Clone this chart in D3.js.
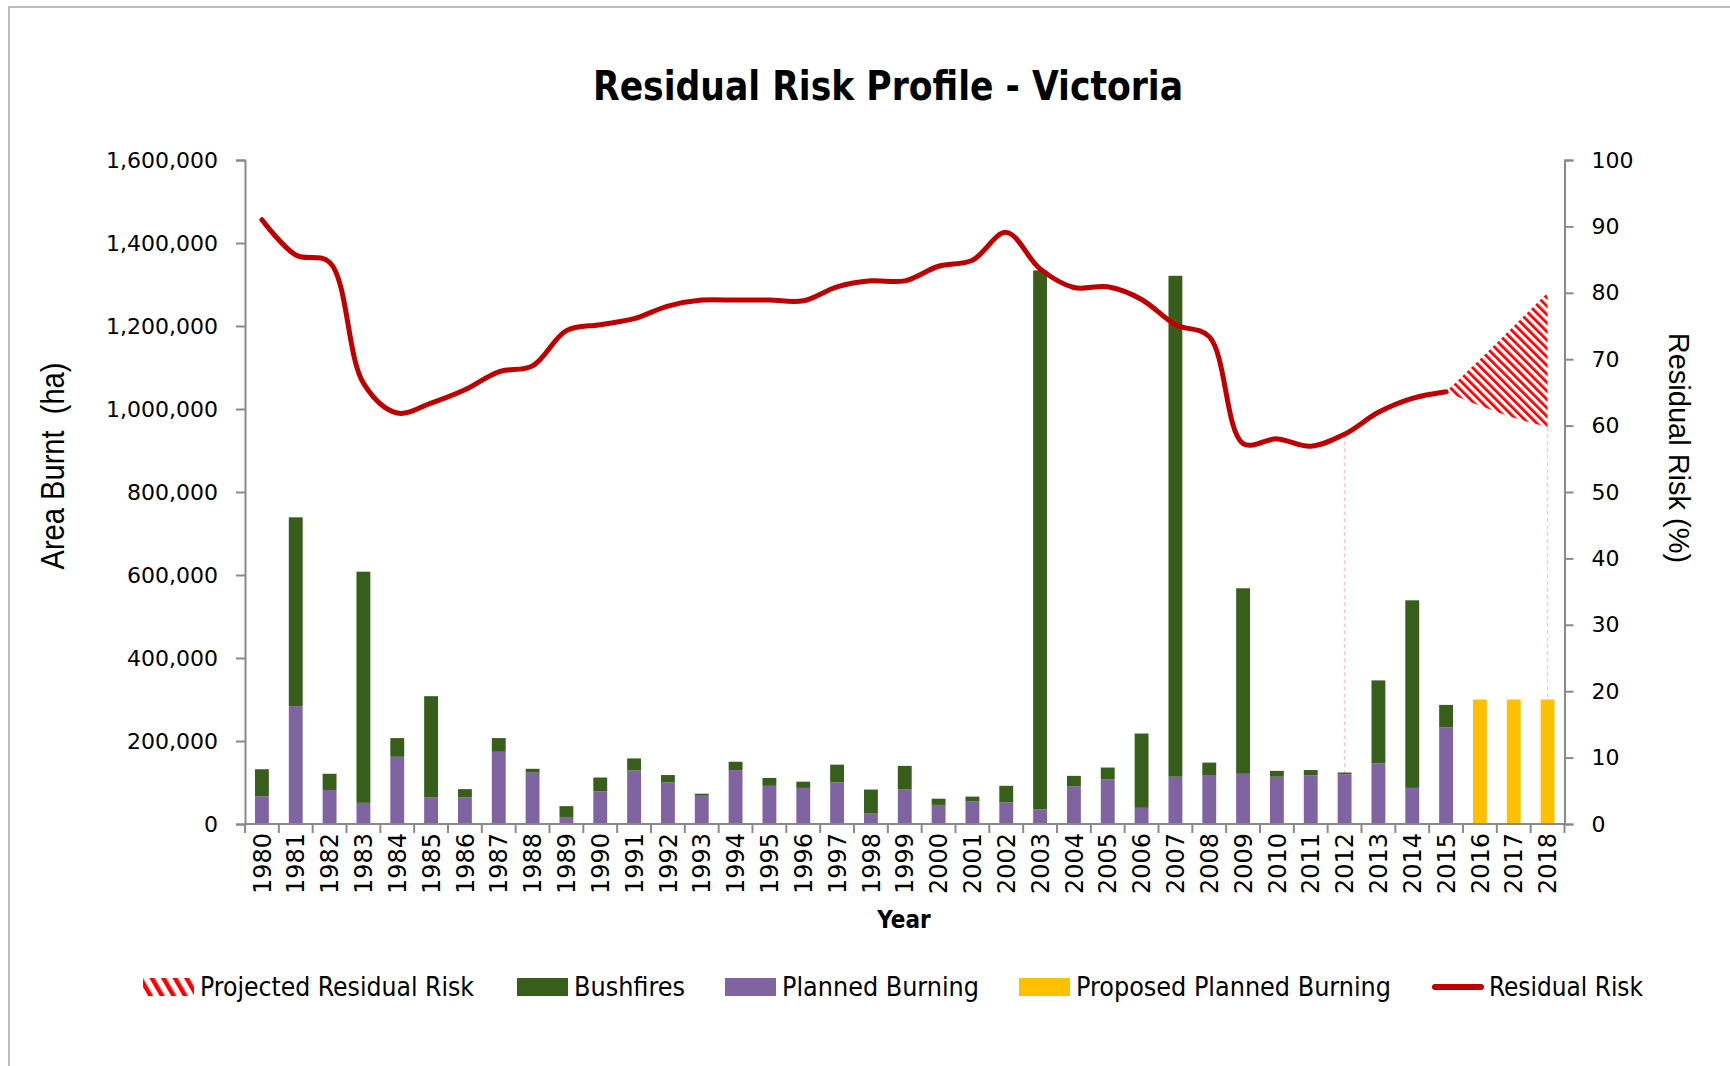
<!DOCTYPE html>
<html>
<head>
<meta charset="utf-8">
<script src="https://cdn.jsdelivr.net/npm/d3@7"></script>
<style>
  body { margin: 0; background: #fff; }
</style>
</head>
<body>
<div id="chart"></div>
<script>
// categories
const years = [1980, 1981, 1982, 1983, 1984, 1985, 1986, 1987, 1988, 1989,
  1990, 1991, 1992, 1993, 1994, 1995, 1996, 1997, 1998, 1999,
  2000, 2001, 2002, 2003, 2004, 2005, 2006, 2007, 2008, 2009,
  2010, 2011, 2012, 2013, 2014, 2015, 2016, 2017, 2018];

// area burnt (ha), stacked
const plannedBurning = [67000, 284000, 82000, 51000, 162000, 64000, 64000, 174000, 124000, 17000,
  79000, 129000, 100000, 68000, 130000, 92000, 87000, 100000, 25000, 83000,
  46000, 54000, 52000, 35000, 91000, 108000, 39000, 114000, 118000, 121000,
  114000, 117000, 120000, 146000, 87000, 233000, 0, 0, 0];
const bushfires = [65000, 455000, 39000, 557000, 45000, 244000, 20000, 33000, 9000, 26000,
  33000, 29000, 18000, 5000, 20000, 19000, 15000, 43000, 58000, 57000,
  15000, 12000, 40000, 1299000, 25000, 28000, 179000, 1207000, 30000, 447000,
  14000, 13000, 4000, 200000, 452000, 54000, 0, 0, 0];
const proposedBurning = [0, 0, 0, 0, 0, 0, 0, 0, 0, 0,
  0, 0, 0, 0, 0, 0, 0, 0, 0, 0,
  0, 0, 0, 0, 0, 0, 0, 0, 0, 0,
  0, 0, 0, 0, 0, 0, 300000, 300000, 300000];

// residual risk (%), 1980-2015
const riskYears = years.slice(0, 36);
const residualRisk = [91.0, 85.7, 84.6, 66.4, 61.9, 63.4, 65.4, 68.1, 69.0, 74.3,
  75.2, 76.1, 78.0, 78.9, 78.9, 78.9, 78.8, 80.9, 81.8, 81.8,
  84.0, 84.9, 89.1, 83.6, 80.8, 80.9, 79.0, 75.2, 73.4, 57.3,
  58.0, 56.9, 58.7, 62.0, 64.1, 65.1];

// projected residual risk band
const projYears = [2015, 2016, 2017, 2018];
const projUpper = [65.1, 70, 75, 80];
const projLower = [65.1, 63, 61.2, 59.8];

// drop lines
const dropYears = [2012, 2018];
const dropValues = [58.7, 59.8];

const leftTicks = [0, 200000, 400000, 600000, 800000, 1000000, 1200000, 1400000, 1600000];
const rightTicks = [0, 10, 20, 30, 40, 50, 60, 70, 80, 90, 100];

const legendItems = ["Projected Residual Risk", "Bushfires", "Planned Burning", "Proposed Planned Burning", "Residual Risk"];

const W = 1730, H = 1066;
const plotL = 245, plotR = 1564.5, plotT = 160, plotB = 824;

const cGreen = "#375e1a", cPurple = "#8064a2", cYellow = "#ffc000", cRed = "#c00000", cAxis = "#898989";
const tickFont = "'DejaVu Sans', Verdana, sans-serif";
const condFont = "'DejaVu Sans Condensed', 'DejaVu Sans', sans-serif";

const svg = d3.select("#chart").append("svg")
  .attr("width", W)
  .attr("height", H);

const defs = svg.append("defs");
function hatch(id, size, stripe, angle) {
  const p = defs.append("pattern")
    .attr("id", id)
    .attr("patternUnits", "userSpaceOnUse")
    .attr("width", size)
    .attr("height", size)
    .attr("patternTransform", `rotate(${angle})`);
  p.append("rect").attr("width", size).attr("height", size).attr("fill", "#fff");
  p.append("rect").attr("width", stripe).attr("height", size).attr("fill", "#ff0000");
}
hatch("hatch", 6, 2.8, -45);
hatch("hatchLeg", 10, 4.5, -30);

// outer border
svg.append("rect")
  .attr("x", 9).attr("y", 7)
  .attr("width", W + 20).attr("height", H + 20)
  .attr("fill", "none")
  .attr("stroke", "#a6a6a6")
  .attr("stroke-width", 1.5);

const x = d3.scaleBand()
  .domain(years)
  .range([plotL, plotR])
  .paddingInner(0.59)
  .paddingOuter(0.295);
const cx = d => x(d) + x.bandwidth() / 2;

const y = d3.scaleLinear().domain([0, 1600000]).range([plotB, plotT]);
const yR = d3.scaleLinear().domain([0, 100]).range([plotB, plotT]);

// title
svg.append("text")
  .attr("x", 888).attr("y", 100)
  .attr("text-anchor", "middle")
  .attr("font-family", condFont)
  .attr("font-weight", "bold")
  .attr("font-size", 41)
  .attr("textLength", 590)
  .attr("lengthAdjust", "spacingAndGlyphs")
  .text("Residual Risk Profile - Victoria");

// drop lines
svg.selectAll(".drop")
  .data(dropYears)
  .enter()
  .append("line")
  .attr("x1", d => cx(d)).attr("x2", d => cx(d))
  .attr("y1", (d, i) => yR(dropValues[i]))
  .attr("y2", plotB)
  .attr("stroke", "#ffc4c4")
  .attr("stroke-width", 1.3)
  .attr("stroke-dasharray", "4,3");

// bars
const rows = years.map((yr, i) => ({ year: yr, planned: plannedBurning[i], bush: bushfires[i], proposed: proposedBurning[i] }));

svg.selectAll(".planned")
  .data(rows.filter(d => d.planned > 0))
  .enter()
  .append("rect")
  .attr("x", d => x(d.year))
  .attr("width", x.bandwidth())
  .attr("y", d => y(d.planned))
  .attr("height", d => plotB - y(d.planned))
  .attr("fill", cPurple);

svg.selectAll(".bush")
  .data(rows.filter(d => d.bush > 0))
  .enter()
  .append("rect")
  .attr("x", d => x(d.year))
  .attr("width", x.bandwidth())
  .attr("y", d => y(d.planned + d.bush))
  .attr("height", d => y(d.planned) - y(d.planned + d.bush))
  .attr("fill", cGreen);

svg.selectAll(".proposed")
  .data(rows.filter(d => d.proposed > 0))
  .enter()
  .append("rect")
  .attr("x", d => x(d.year))
  .attr("width", x.bandwidth())
  .attr("y", d => y(d.proposed))
  .attr("height", d => plotB - y(d.proposed))
  .attr("fill", cYellow);

// projected band
const projData = projYears.map((yr, i) => ({ year: yr, lo: projLower[i], hi: projUpper[i] }));
svg.append("path")
  .datum(projData)
  .attr("d", d3.area()
    .x(d => cx(d.year))
    .y0(d => yR(d.lo))
    .y1(d => yR(d.hi))
    .curve(d3.curveMonotoneX))
  .attr("fill", "url(#hatch)");

// residual risk line
svg.append("path")
  .datum(riskYears.map((yr, i) => ({ year: yr, v: residualRisk[i] })))
  .attr("d", d3.line()
    .x(d => cx(d.year))
    .y(d => yR(d.v))
    .curve(d3.curveCatmullRom.alpha(0.5)))
  .attr("fill", "none")
  .attr("stroke", cRed)
  .attr("stroke-width", 5)
  .attr("stroke-linecap", "round")
  .attr("stroke-linejoin", "round");

// axes
const leftAxis = svg.append("g")
  .attr("transform", `translate(${plotL},0)`)
  .call(d3.axisLeft(y).tickValues(leftTicks).tickSize(9).tickPadding(18).tickFormat(d3.format(",")));
const rightAxis = svg.append("g")
  .attr("transform", `translate(${plotR},0)`)
  .call(d3.axisRight(yR).tickValues(rightTicks).tickSize(9).tickPadding(18));

[leftAxis, rightAxis].forEach(g => {
  g.select(".domain").attr("stroke", cAxis).attr("stroke-width", 2);
  g.selectAll(".tick line").attr("stroke", cAxis).attr("stroke-width", 2);
  g.selectAll(".tick text").attr("font-family", tickFont).attr("font-size", 22).attr("fill", "#000");
});

// x axis: line, boundary ticks, rotated labels
const xg = svg.append("g");
xg.append("line")
  .attr("x1", plotL).attr("x2", plotR)
  .attr("y1", plotB).attr("y2", plotB)
  .attr("stroke", cAxis).attr("stroke-width", 2);
const bounds = years.map(d => x(d) - x.step() * x.paddingInner() / 2).concat([plotR]);
xg.selectAll(".xtick")
  .data(bounds)
  .enter()
  .append("line")
  .attr("x1", d => d).attr("x2", d => d)
  .attr("y1", plotB).attr("y2", plotB + 9)
  .attr("stroke", cAxis).attr("stroke-width", 2);
xg.selectAll(".xlab")
  .data(years)
  .enter()
  .append("text")
  .attr("transform", d => `translate(${cx(d)},${plotB + 9}) rotate(-90)`)
  .attr("text-anchor", "end")
  .attr("dy", "0.36em")
  .attr("font-family", tickFont)
  .attr("font-size", 24)
  .text(d => d);

// axis titles
svg.append("text")
  .attr("transform", "translate(904,928)")
  .attr("text-anchor", "middle")
  .attr("font-family", condFont)
  .attr("font-weight", "bold")
  .attr("font-size", 24)
  .text("Year");

svg.append("text")
  .attr("transform", "translate(64,466) rotate(-90)")
  .attr("text-anchor", "middle")
  .attr("font-family", "'Liberation Sans Narrow', 'Liberation Sans', sans-serif")
  .attr("font-size", 34)
  .attr("textLength", 207)
  .attr("lengthAdjust", "spacingAndGlyphs")
  .style("white-space", "pre")
  .text("Area Burnt  (ha)");

svg.append("text")
  .attr("transform", "translate(1669,448) rotate(90)")
  .attr("text-anchor", "middle")
  .attr("font-family", "'Liberation Sans', Arial, sans-serif")
  .attr("font-size", 29)
  .text("Residual Risk (%)");

// legend
const legX = [143, 517, 725, 1019, 1432];
const legW = [274, 111, 197, 315, 154];
const legY = 987;
const leg = svg.selectAll(".leg")
  .data(legendItems)
  .enter()
  .append("g")
  .attr("transform", (d, i) => `translate(${legX[i]},${legY})`);

leg.each(function (d, i) {
  const g = d3.select(this);
  if (i === 4) {
    g.append("line")
      .attr("x1", 3).attr("x2", 49)
      .attr("y1", 0).attr("y2", 0)
      .attr("stroke", cRed).attr("stroke-width", 6)
      .attr("stroke-linecap", "round");
  } else {
    const fills = ["url(#hatchLeg)", cGreen, cPurple, cYellow];
    g.append("rect")
      .attr("x", 0).attr("y", -9)
      .attr("width", 51).attr("height", 18)
      .attr("fill", fills[i]);
  }
  g.append("text")
    .attr("x", 57)
    .attr("dy", "0.36em")
    .attr("font-family", condFont)
    .attr("font-size", 26)
    .attr("textLength", legW[i])
    .attr("lengthAdjust", "spacingAndGlyphs")
    .text(d);
});
</script>
</body>
</html>
